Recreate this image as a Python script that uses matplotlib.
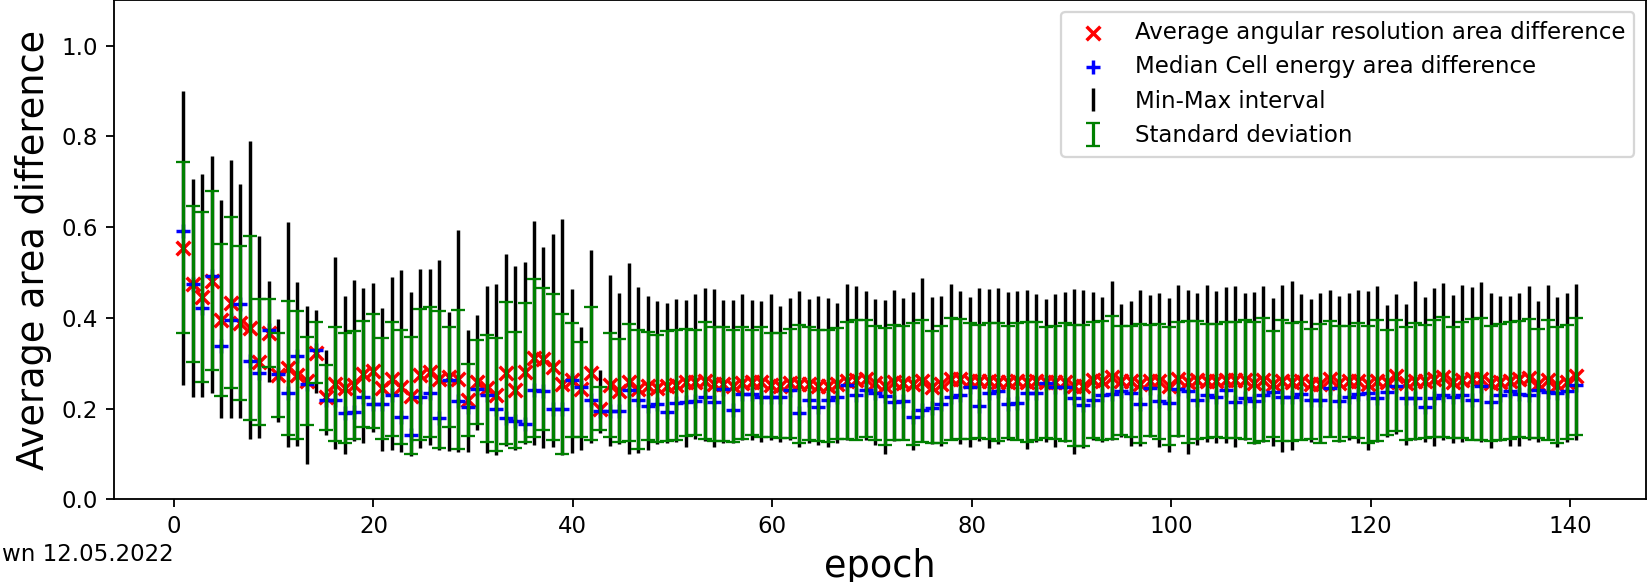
import numpy as np
import matplotlib
matplotlib.use("Agg")
import matplotlib.pyplot as plt

# ---- data ----
n_points = 148
epochs = np.arange(1, n_points + 1) * 0.95

mean_vals = [
    0.555, 0.475, 0.446, 0.482, 0.395, 0.434, 0.389, 0.378, 0.303, 0.366,
    0.274, 0.290, 0.274, 0.261, 0.323, 0.225, 0.255, 0.245, 0.252, 0.277,
    0.283, 0.245, 0.266, 0.248, 0.228, 0.275, 0.281, 0.265, 0.269, 0.265,
    0.219, 0.259, 0.245, 0.231, 0.279, 0.241, 0.280, 0.311, 0.310, 0.292,
    0.255, 0.263, 0.243, 0.278, 0.200, 0.252, 0.240, 0.258, 0.243, 0.251,
    0.245, 0.250, 0.252, 0.258, 0.258, 0.262, 0.255, 0.255, 0.250, 0.256,
    0.258, 0.259, 0.252, 0.251, 0.256, 0.254, 0.255, 0.251, 0.250, 0.255,
    0.262, 0.264, 0.266, 0.257, 0.249, 0.258, 0.257, 0.254, 0.261, 0.248,
    0.254, 0.266, 0.265, 0.261, 0.260, 0.261, 0.259, 0.259, 0.260, 0.259,
    0.261, 0.258, 0.258, 0.259, 0.251, 0.251, 0.263, 0.262, 0.269, 0.262,
    0.260, 0.255, 0.262, 0.260, 0.250, 0.265, 0.259, 0.263, 0.261, 0.262,
    0.264, 0.263, 0.264, 0.257, 0.264, 0.255, 0.262, 0.259, 0.261, 0.254,
    0.255, 0.266, 0.256, 0.260, 0.262, 0.254, 0.262, 0.258, 0.273, 0.256,
    0.261, 0.260, 0.266, 0.270, 0.258, 0.263, 0.265, 0.266, 0.256, 0.259,
    0.262, 0.265, 0.267, 0.255, 0.264, 0.252, 0.259, 0.271,
]

std_vals = [
    0.189, 0.172, 0.188, 0.197, 0.167, 0.189, 0.170, 0.203, 0.139, 0.075,
    0.092, 0.148, 0.141, 0.097, 0.067, 0.072, 0.126, 0.121, 0.119, 0.117,
    0.125, 0.111, 0.126, 0.126, 0.129, 0.144, 0.143, 0.151, 0.110, 0.153,
    0.079, 0.092, 0.118, 0.124, 0.156, 0.127, 0.154, 0.174, 0.156, 0.160,
    0.154, 0.126, 0.105, 0.147, 0.047, 0.115, 0.113, 0.129, 0.131, 0.119,
    0.118, 0.121, 0.121, 0.118, 0.115, 0.129, 0.126, 0.126, 0.124, 0.123,
    0.116, 0.122, 0.115, 0.116, 0.120, 0.130, 0.124, 0.122, 0.124, 0.122,
    0.129, 0.132, 0.129, 0.125, 0.129, 0.126, 0.125, 0.134, 0.134, 0.123,
    0.129, 0.134, 0.132, 0.128, 0.124, 0.128, 0.130, 0.124, 0.128, 0.132,
    0.130, 0.123, 0.125, 0.130, 0.133, 0.133, 0.128, 0.131, 0.136, 0.120,
    0.123, 0.131, 0.122, 0.126, 0.129, 0.125, 0.135, 0.130, 0.126, 0.124,
    0.128, 0.127, 0.131, 0.133, 0.135, 0.117, 0.133, 0.130, 0.130, 0.121,
    0.131, 0.128, 0.127, 0.123, 0.127, 0.129, 0.133, 0.116, 0.122, 0.125,
    0.128, 0.124, 0.129, 0.132, 0.123, 0.128, 0.133, 0.134, 0.127, 0.127,
    0.129, 0.128, 0.131, 0.120, 0.132, 0.128, 0.126, 0.129,
]

min_vals = [
    0.252, 0.226, 0.226, 0.235, 0.179, 0.179, 0.179, 0.134, 0.135, 0.259,
    0.171, 0.116, 0.118, 0.078, 0.234, 0.143, 0.111, 0.100, 0.128, 0.124,
    0.149, 0.107, 0.110, 0.105, 0.095, 0.114, 0.120, 0.110, 0.107, 0.105,
    0.105, 0.153, 0.103, 0.098, 0.118, 0.110, 0.122, 0.120, 0.114, 0.116,
    0.098, 0.103, 0.110, 0.125, 0.147, 0.118, 0.122, 0.101, 0.103, 0.110,
    0.122, 0.125, 0.127, 0.115, 0.133, 0.129, 0.115, 0.124, 0.124, 0.132,
    0.131, 0.127, 0.131, 0.126, 0.131, 0.116, 0.125, 0.120, 0.116, 0.124,
    0.131, 0.131, 0.132, 0.121, 0.101, 0.129, 0.130, 0.109, 0.127, 0.122,
    0.118, 0.132, 0.122, 0.116, 0.129, 0.114, 0.122, 0.132, 0.132, 0.112,
    0.127, 0.126, 0.116, 0.126, 0.100, 0.114, 0.131, 0.127, 0.131, 0.137,
    0.118, 0.118, 0.137, 0.115, 0.105, 0.137, 0.100, 0.120, 0.127, 0.125,
    0.124, 0.115, 0.131, 0.122, 0.126, 0.118, 0.105, 0.109, 0.131, 0.126,
    0.124, 0.137, 0.127, 0.131, 0.124, 0.109, 0.127, 0.137, 0.144, 0.120,
    0.131, 0.127, 0.118, 0.131, 0.125, 0.127, 0.132, 0.126, 0.114, 0.129,
    0.118, 0.118, 0.132, 0.127, 0.131, 0.116, 0.127, 0.131,
]

max_vals = [
    0.900, 0.706, 0.718, 0.756, 0.659, 0.749, 0.695, 0.790, 0.581, 0.481,
    0.397, 0.612, 0.480, 0.426, 0.417, 0.329, 0.535, 0.448, 0.483, 0.465,
    0.476, 0.423, 0.490, 0.505, 0.457, 0.507, 0.507, 0.527, 0.412, 0.593,
    0.373, 0.407, 0.470, 0.474, 0.540, 0.514, 0.523, 0.613, 0.557, 0.584,
    0.619, 0.463, 0.380, 0.549, 0.285, 0.494, 0.454, 0.521, 0.468, 0.449,
    0.438, 0.433, 0.441, 0.439, 0.452, 0.465, 0.463, 0.439, 0.439, 0.452,
    0.439, 0.437, 0.452, 0.426, 0.443, 0.459, 0.442, 0.449, 0.444, 0.433,
    0.474, 0.471, 0.459, 0.441, 0.439, 0.461, 0.444, 0.457, 0.488, 0.446,
    0.449, 0.474, 0.460, 0.446, 0.467, 0.463, 0.465, 0.457, 0.460, 0.461,
    0.452, 0.441, 0.452, 0.457, 0.463, 0.461, 0.457, 0.446, 0.482, 0.430,
    0.438, 0.461, 0.450, 0.455, 0.443, 0.472, 0.461, 0.454, 0.472, 0.460,
    0.468, 0.471, 0.454, 0.457, 0.471, 0.445, 0.472, 0.481, 0.452, 0.441,
    0.454, 0.461, 0.449, 0.454, 0.461, 0.460, 0.470, 0.428, 0.452, 0.430,
    0.482, 0.446, 0.465, 0.476, 0.450, 0.472, 0.468, 0.479, 0.454, 0.449,
    0.449, 0.456, 0.471, 0.438, 0.472, 0.446, 0.454, 0.474,
]

median_vals = [
    0.591, 0.474, 0.421, 0.492, 0.339, 0.395, 0.430, 0.306, 0.278, 0.373,
    0.276, 0.234, 0.317, 0.254, 0.330, 0.220, 0.220, 0.190, 0.193, 0.226,
    0.210, 0.210, 0.231, 0.182, 0.143, 0.226, 0.234, 0.179, 0.264, 0.217,
    0.204, 0.243, 0.231, 0.199, 0.180, 0.173, 0.166, 0.242, 0.239, 0.199,
    0.200, 0.263, 0.248, 0.219, 0.195, 0.195, 0.195, 0.242, 0.219, 0.206,
    0.211, 0.192, 0.212, 0.215, 0.217, 0.226, 0.214, 0.244, 0.197, 0.232,
    0.232, 0.226, 0.225, 0.226, 0.242, 0.190, 0.220, 0.204, 0.220, 0.226,
    0.253, 0.230, 0.241, 0.235, 0.228, 0.215, 0.218, 0.182, 0.198, 0.201,
    0.210, 0.226, 0.230, 0.247, 0.206, 0.235, 0.239, 0.210, 0.212, 0.234,
    0.234, 0.256, 0.248, 0.248, 0.223, 0.208, 0.220, 0.231, 0.232, 0.239,
    0.235, 0.210, 0.246, 0.216, 0.212, 0.243, 0.239, 0.220, 0.231, 0.226,
    0.241, 0.215, 0.224, 0.217, 0.230, 0.237, 0.225, 0.226, 0.232, 0.220,
    0.220, 0.246, 0.217, 0.226, 0.232, 0.235, 0.223, 0.237, 0.250, 0.224,
    0.224, 0.204, 0.224, 0.231, 0.226, 0.230, 0.220, 0.250, 0.214, 0.230,
    0.239, 0.232, 0.230, 0.241, 0.236, 0.235, 0.239, 0.252,
]

label_mean = "Average angular resolution area difference"
label_median = "Median Cell energy area difference"
label_minmax = "Min-Max interval"
label_std = "Standard deviation"
date_text = "wn 12.05.2022"

# ---- figure ----
mean = np.array(mean_vals)
std = np.array(std_vals)
vmin = np.array(min_vals)
vmax = np.array(max_vals)
median = np.array(median_vals)

dpi = 165
fig = plt.figure(figsize=(1652 / dpi, 582 / dpi), dpi=dpi)
ax = fig.add_axes([0.0689, 0.1419, 0.9273, 0.8575])

ax.scatter(epochs, mean, marker="x", color="red", label=label_mean, zorder=1)
ax.scatter(epochs, median, marker="+", color="blue", label=label_median, zorder=1)
ax.errorbar(epochs, mean, yerr=[mean - vmin, vmax - mean], fmt="none",
            ecolor="black", elinewidth=1.5, label=label_minmax, zorder=2)
ax.errorbar(epochs, mean, yerr=std, fmt="none", ecolor="green",
            elinewidth=1.4, capsize=3, label=label_std, zorder=2)

ax.set_ylim(0, 1.1)
ax.set_xlabel("epoch", fontsize=16)
ax.set_ylabel("Average area difference", fontsize=16)
ax.legend(loc="upper right", fontsize=10)

fig.text(0.1053, 0.0464, date_text, ha="right", va="center", fontsize=10)

fig.savefig("out.png", dpi=dpi)
